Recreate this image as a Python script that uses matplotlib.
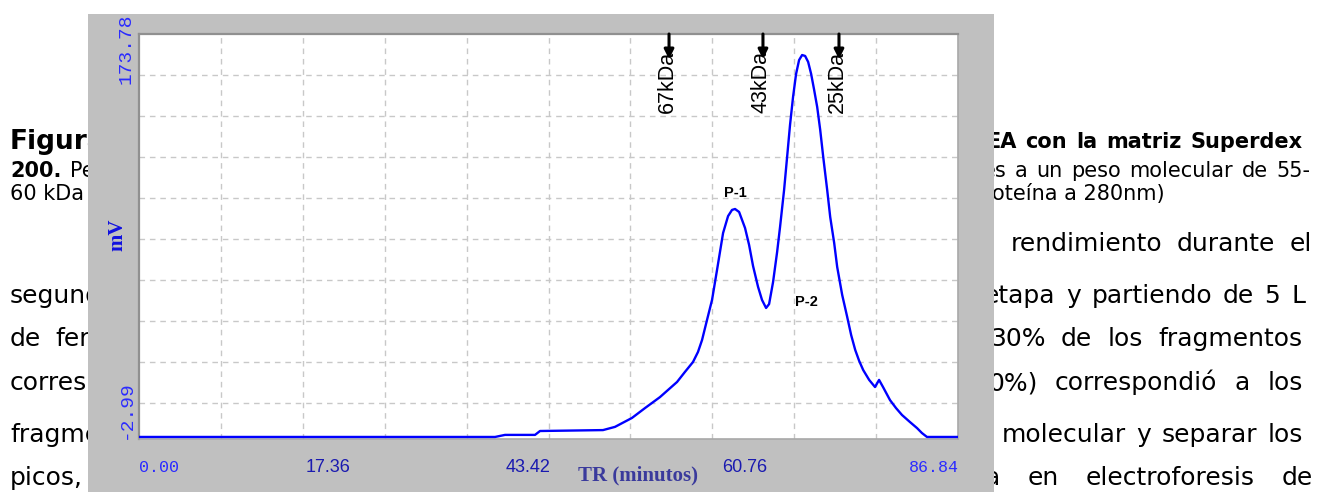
import matplotlib
matplotlib.use("Agg")
import matplotlib.pyplot as plt
from matplotlib.patches import Rectangle

# chromatogram trace (retention time in min, signal in mV)
tr_min = [0.0, 37.75, 38.81, 41.99, 42.52, 49.20, 50.47, 52.27, 53.65, 55.24,
          57.05, 57.89, 58.74, 59.27, 59.70, 60.23, 60.76, 61.29, 61.93, 62.46,
          62.88, 63.20, 63.63, 64.26, 64.69, 65.11, 65.64, 66.06, 66.49, 66.81,
          67.23, 67.66, 67.97, 68.40, 68.72, 69.03, 69.35, 69.67, 69.99, 70.31,
          70.63, 70.95, 71.27, 71.59, 71.91, 72.23, 72.55, 72.97, 73.29, 73.71,
          74.03, 74.56, 75.09, 75.51, 75.94, 76.36, 76.79, 77.42, 78.04, 78.47,
          78.89, 79.63, 80.27, 80.90, 81.75, 82.49, 83.02, 83.55, 86.84]
signal_mv = [-2.1, -2.1, -1.2, -1.2, 0.5, 0.9, 2.3, 6.2, 10.5, 15.3,
             21.9, 26.3, 30.6, 35.0, 40.2, 49.0, 57.7, 70.8, 86.9, 94.3,
             97.0, 97.4, 96.1, 89.1, 81.7, 72.5, 63.4, 57.7, 54.2, 55.9,
             65.5, 78.6, 89.5, 105.7, 120.1, 134.1, 146.3, 156.3, 162.4, 164.6,
             164.2, 161.6, 156.3, 149.3, 141.9, 131.9, 120.1, 105.7, 93.9, 82.6,
             72.1, 59.9, 50.3, 42.4, 35.9, 31.1, 27.1, 22.8, 19.7, 22.8,
             19.7, 14.0, 10.5, 7.5, 4.4, 1.8, -0.4, -2.1, -2.1]

x_min, x_max = 0.0, 86.84
y_min, y_max = -2.99, 173.78

# molecular weight standards
std_pos = [56.2, 66.16, 74.22]
std_names = ["67kDa", "43kDa", "25kDa"]

# peak labels
peak_names = ["P-1", "P-2"]
peak_pos = [(63.2, 104.4), (70.72, 56.8)]

x_tick_texts = ["0.00", "17.36", "43.42", "60.76", "86.84"]

W, H = 1318, 492
fig = plt.figure(figsize=(W / 100, H / 100), dpi=100)
fig.patch.set_facecolor("white")


def fx(x):
    return x / W


def fy(y):
    return 1 - y / H


def justify(words, x0, x1, y, **kw):
    r = fig.canvas.get_renderer()
    texts = [fig.text(0, fy(y), w, va="baseline", ha="left", zorder=0.5, **kw) for w in words]
    widths = [t.get_window_extent(r).width for t in texts]
    gap = (x1 - x0 - sum(widths)) / max(len(words) - 1, 1)
    x = x0
    for t, w in zip(texts, widths):
        t.set_x(fx(x))
        x += w + gap


body = dict(fontsize=18, family="DejaVu Sans", color="black")
cap = dict(fontsize=15, family="DejaVu Sans", color="black")
capb = dict(fontsize=15, family="DejaVu Sans", color="black", weight="bold")

# page text around the figure
fig.text(fx(10), fy(149), "Figura", fontsize=19, weight="bold", family="DejaVu Sans",
         va="baseline", zorder=0.5)
fig.text(fx(10), fy(177), "200.", va="baseline", zorder=0.5, **capb)
fig.text(fx(70), fy(177), "Peso", va="baseline", zorder=0.5, **cap)
fig.text(fx(10), fy(200), "60 kDa", va="baseline", zorder=0.5, **cap)
fig.text(fx(10), fy(303), "segundo", va="baseline", zorder=0.5, **body)
fig.text(fx(10), fy(346), "de", va="baseline", zorder=0.5, **body)
fig.text(fx(55), fy(346), "ferme", va="baseline", zorder=0.5, **body)
fig.text(fx(10), fy(390), "corresp", va="baseline", zorder=0.5, **body)
fig.text(fx(10), fy(442), "fragme", va="baseline", zorder=0.5, **body)
fig.text(fx(10), fy(485), "picos,", va="baseline", zorder=0.5, **body)

justify(["EA", "con", "la", "matriz", "Superdex"], 986, 1303, 148, **capb)
justify(["es", "a", "un", "peso", "molecular", "de", "55-"], 983, 1310, 177, **cap)
fig.text(fx(992), fy(200), "oteína a 280nm)", va="baseline", zorder=0.5, **cap)
justify(["de", "rendimiento", "durante", "el"], 965, 1312, 251, **body)
justify(["etapa", "y", "partiendo", "de", "5", "L"], 984, 1305, 303, **body)
justify(["30%", "de", "los", "fragmentos"], 990, 1303, 346, **body)
justify(["0%)", "correspondió", "a", "los"], 988, 1303, 390, **body)
justify(["molecular", "y", "separar", "los"], 1002, 1303, 442, **body)
justify(["a", "en", "electroforesis", "de"], 985, 1313, 485, **body)

# grey instrument frame
fig.add_artist(Rectangle((fx(88), 0), fx(994) - fx(88), fy(14), transform=fig.transFigure,
                         facecolor="#c0c0c0", edgecolor="none", zorder=1))

ax = fig.add_axes([fx(139), fy(439), fx(958) - fx(139), (439 - 34) / H])
ax.set_zorder(2)
ax.set_facecolor("white")
ax.set_xlim(x_min, x_max)
ax.set_ylim(y_min, y_max)
ax.set_xticks([])
ax.set_yticks([])
for side in ["left", "top"]:
    ax.spines[side].set_color("#909090")
    ax.spines[side].set_linewidth(1.6)
for side in ["right", "bottom"]:
    ax.spines[side].set_color("#a8a8a8")
    ax.spines[side].set_linewidth(1.2)

x_step = (x_max - x_min) / 10
y_step = 17.9
for k in range(1, 10):
    ax.axvline(x_min + k * x_step, color="#c8c8c8", lw=1.0, ls=(0, (4, 3.5)), zorder=1)
    ax.axhline(y_max - k * y_step, color="#c8c8c8", lw=1.0, ls=(0, (4, 3.5)), zorder=1)

ax.plot(tr_min, signal_mv, color="#0000ff", lw=1.7, zorder=3)

for pos, name in zip(std_pos, std_names):
    ax.annotate("", xy=(pos, y_max - 11), xytext=(pos, y_max),
                arrowprops=dict(arrowstyle="-|>", color="black", lw=2.2, mutation_scale=14,
                                shrinkA=0, shrinkB=0),
                zorder=4)
    ax.text(pos - 0.2, y_max - 7.4, name, rotation=90, ha="center", va="top",
            fontsize=15.5, family="Liberation Sans", color="black", zorder=4)

for name, (px_, py_) in zip(peak_names, peak_pos):
    ax.text(px_, py_, name, ha="center", va="center", fontsize=10.5, weight="bold",
            family="Liberation Sans", color="black", zorder=4)

# axis annotations
mono_blue = "#2b2bff"
fig.text(fx(126), fy(13), "173.78", rotation=90, ha="center", va="top", fontsize=14,
         family="Liberation Mono", color=mono_blue, zorder=3)
fig.text(fx(126), fy(439), "-2.99", rotation=90, ha="center", va="bottom", fontsize=14,
         family="Liberation Mono", color=mono_blue, zorder=3)
fig.text(fx(117), fy(235), "mV", rotation=90, ha="center", va="center", fontsize=15,
         weight="bold", family="Liberation Serif", color="#1010e0", zorder=3)

fig.text(fx(139), fy(468), x_tick_texts[0], ha="left", va="center", fontsize=12,
         family="Liberation Mono", color=mono_blue, zorder=3)
for label, xl in zip(x_tick_texts[1:4], [306, 506, 722]):
    fig.text(fx(xl), fy(467), label, ha="left", va="center", fontsize=13,
             family="Liberation Sans", color="#1a1ab0", zorder=3)
fig.text(fx(959), fy(468), x_tick_texts[4], ha="right", va="center", fontsize=12,
         family="Liberation Mono", color=mono_blue, zorder=3)
fig.text(fx(638), fy(475), "TR (minutos)", ha="center", va="center", fontsize=15,
         weight="bold", family="Liberation Serif", color="#3a3a9c", zorder=3)

fig.savefig("out.png", dpi=100)
